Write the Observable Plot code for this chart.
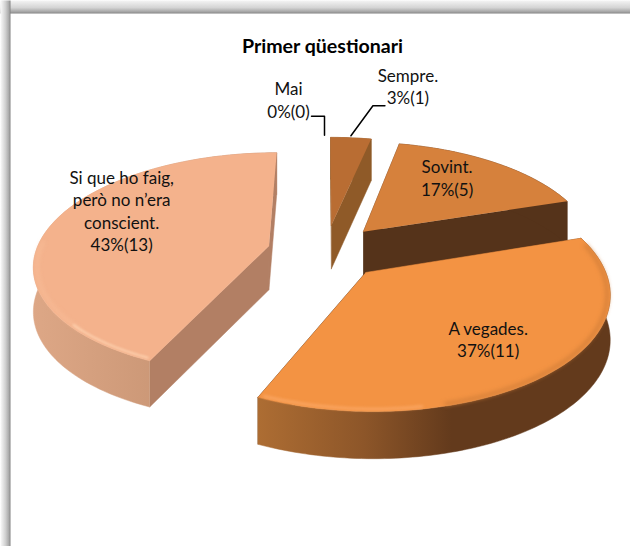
<!DOCTYPE html>
<html><head><meta charset="utf-8">
<script src="https://cdn.jsdelivr.net/npm/d3@7"></script>
<script src="https://cdn.jsdelivr.net/npm/@observablehq/plot@0.6"></script>
<style>html,body{margin:0;padding:0;background:#fff}svg{display:block}</style>
</head><body><div id="chart"></div>
<script>
const titleText = "Primer qüestionari";
const categories = ["Mai", "Sempre.", "Sovint.", "A vegades.", "Si que ho faig,\nperò no n’era\nconscient."];
const counts = [0, 1, 5, 11, 13];
const percents = ["0%", "3%", "17%", "37%", "43%"];

// Styles, kept apart from the data
const topColors = ["#b96d33", "#b96d33", "#d6813c", "#f39343", "#f4b28c"];
const cutColors = ["#8f5a28", "#8f5a28", "#55331a", "#633a1c", "#b27f64"];
const wallFills = ["#8f5a28", "#8f5a28", "#55331a", "url(#wallOrange)", "url(#wallPeach)"];
const drawOrder = [1, 2, 4, 3];
// label placement in pie polar terms: radius fraction, angle (deg), pixel nudge
const labelPlace = [
  {r: 1, a: 0, dx: -37, dy: -38},
  {r: 1, a: 6, dx: 57, dy: -52},
  {r: .71, a: 36, dx: 0, dy: 0},
  {r: .69, a: 139, dx: 0, dy: 0},
  {r: .77, a: 297, dx: 0, dy: 0}
];
const leaderOffsets = {0: [[-14, -21], [-1, -21], [-1, -2]], 1: [[34, -32], [22, -32], [0, -2]]};

// 3D model of the pie
const PX = 233, CX = 325, CY = 251, TILT = .47, D = 6.3, EXPLODE = .25;
const arcs = d3.pie().sort(null).value(d => d).startAngle(0).endAngle(2 * Math.PI)(counts);
const slices = arcs.map((a, i) => ({i, a0: a.startAngle, a1: a.endAngle, mid: (a.startAngle + a.endAngle) / 2}));

function project(sl, r, th, down = false) {
  const X = EXPLODE * Math.sin(sl.mid) + r * Math.sin(th);
  const Y = EXPLODE * Math.cos(sl.mid) + r * Math.cos(th);
  const s = D / (D + Y);
  const h = down ? (30 + 14 * s) / PX : 0;
  return {x: X * s, y: -Y * TILT * s + h};
}
function arcPts(sl, down = false, r = 1, a0 = sl.a0, a1 = sl.a1) {
  const n = Math.max(2, Math.ceil((a1 - a0) / 0.02));
  return d3.range(n + 1).map(k => project(sl, r, a0 + (a1 - a0) * k / n, down));
}
const poly = (pts, fill) => Plot.line(pts, {x: "x", y: "y", fill, stroke: fill, strokeWidth: .5, curve: "linear"});

function sliceMarks(sl) {
  const {i, a0, a1} = sl;
  const apex = project(sl, 0, 0), apexD = project(sl, 0, 0, true);
  const outerT = arcPts(sl), outerB = arcPts(sl, true).reverse();
  const cut = th => poly([apex, project(sl, 1, th), project(sl, 1, th, true), apexD], cutColors[i]);
  return [cut(a0), cut(a1), poly([...outerT, ...outerB], wallFills[i]), poly([apex, ...outerT], topColors[i])];
}
const rad = d => d * Math.PI / 180;
const bevel = (sl, r, d0, d1, stroke, w, blur = 1) =>
  Plot.line(arcPts(sl, false, r, rad(d0), rad(d1)), {x: "x", y: "y", stroke, strokeWidth: w, imageFilter: `blur(${blur}px)`});

const defs = () => {
  const svg = d3.create("svg:defs");
  const grad = (id, stops, x2 = 1, y2 = 0) => {
    const g = svg.append("linearGradient").attr("id", id).attr("x1", 0).attr("y1", 0).attr("x2", x2).attr("y2", y2);
    stops.forEach(([o, c]) => g.append("stop").attr("offset", o).attr("stop-color", c));
  };
  grad("wallPeach", [[0, "#dda786"], [.5, "#cc9877"], [1, "#b27f64"]]);
  grad("wallOrange", [[0, "#ad6d33"], [.3, "#8d5629"], [.55, "#633a1c"], [1, "#633a1c"]]);
  grad("bandTop", [[0, "#f4f4f4"], [.55, "#d4d4d4"], [.9, "#a0a0a0"], [1, "#7e7e7e"]], 0, 1);
  grad("bandLeft", [[0, "#fafafa"], [.5, "#d0d0d0"], [.85, "#a8a8a8"], [1, "#808080"]]);
  return svg.node();
};

const toUnits = ([x, y], base) => ({x: base.x + x / PX, y: base.y + y / PX});
const labelRows = slices.map((sl, i) => {
  const p = labelPlace[i], c = project(sl, p.r, rad(p.a));
  return {x: c.x, y: c.y, dx: p.dx, dy: p.dy, text: `${categories[i]}\n${percents[i]}(${counts[i]})`};
});
const leaderMarks = Object.entries(leaderOffsets).map(([i, off]) => {
  const sl = slices[+i], base = project(sl, 1, sl.mid);
  return Plot.line(off.map(o => toUnits(o, base)), {x: "x", y: "y", stroke: "#000", strokeWidth: 1.5, curve: "linear"});
});
const font = {fontFamily: "Lato, 'Open Sans', sans-serif"};
const labelStyle = {x: "x", y: "y", text: "text", fontSize: 17, lineHeight: 1.32, fill: "#111", ...font};

const plot = Plot.plot({
  width: 630, height: 546, margin: 0,
  style: {background: "#fff"},
  x: {axis: null, domain: [-CX / PX, (630 - CX) / PX], range: [0, 630]},
  y: {axis: null, domain: [-CY / PX, (546 - CY) / PX], range: [0, 546]},
  marks: [
    defs,
    Plot.frame({fill: "url(#bandTop)", stroke: null, insetBottom: 533}),
    Plot.frame({fill: "url(#bandLeft)", stroke: null, insetRight: 620}),
    ...drawOrder.flatMap(i => sliceMarks(slices[i])),
    bevel(slices[4], .985, 225, 272, "#f8bd98", 2.5, 2),
    bevel(slices[4], .985, 205, 228, "#fdd0ae", 2, 1),
    bevel(slices[3], .988, 76, 165, "#d07d38", 3, 2),
    bevel(slices[3], .985, 170, 203, "#fba764", 2.5, 1.5),
    ...leaderMarks,
    ...labelRows.map(d => Plot.text([d], {...labelStyle, dx: d.dx, dy: d.dy})),
    Plot.text([titleText], {frameAnchor: "top", dx: 7, dy: 39, fontSize: 19.6, fontWeight: 700, fill: "#000", ...font})
  ]
});
document.getElementById("chart").append(plot);
</script></body></html>
